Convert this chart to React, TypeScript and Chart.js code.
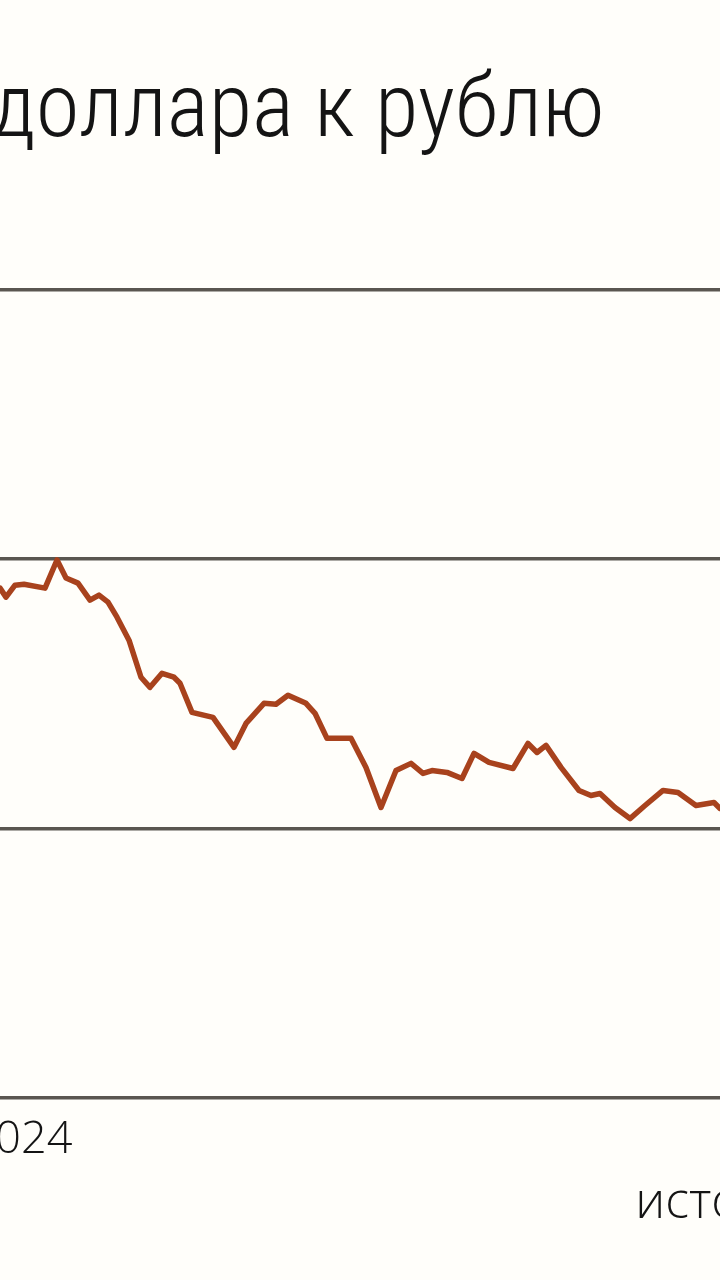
import React, { useEffect, useRef } from "react";
import { Chart, registerables } from "chart.js";

Chart.register(...registerables);

// Days (relative index along the time axis) and USD/RUB rate
const DAYS = [
  -14, -7, 0, 2, 5, 8, 15, 19, 22, 26, 30, 33, 36, 39, 43, 47, 50, 54, 58, 60,
  64, 71, 78, 82, 88, 92, 96, 102, 105, 109, 117, 122, 127, 132, 137, 141, 144,
  149, 154, 158, 163, 171, 176, 179, 182, 187, 193, 197, 200, 205, 210, 215, 221,
  226, 232, 236, 238, 240, 246,
];
const RATE = [
  96.2, 97.0, 97.84, 97.17, 98.06, 98.13, 97.84, 99.93, 98.59, 98.21, 96.95,
  97.32, 96.8, 95.68, 93.97, 91.22, 90.47, 91.51, 91.22, 90.77, 88.61, 88.24,
  86.01, 87.79, 89.28, 89.21, 89.88, 89.28, 88.54, 86.68, 86.68, 84.52, 81.54,
  84.29, 84.82, 84.07, 84.29, 84.15, 83.7, 85.56, 84.89, 84.44, 86.3, 85.63,
  86.16, 84.52, 82.81, 82.43, 82.58, 81.54, 80.72, 81.69, 82.81, 82.66, 81.69,
  81.84, 81.91, 81.47, 81.2,
];
const X_TICK_VALUES = [7];
const X_TICK_LABELS = ["2024"];
const Y_TICK_VALUES = [60, 80, 100, 120];
const TITLE = "Курс доллара к рублю";
const SOURCE = "источник: ЦБ РФ";

const FONT = "'Open Sans', 'Noto Sans', sans-serif";
const TITLE_FONT = "'Roboto Condensed', Roboto, sans-serif";
const OFF = 300;
const PAD_L = 102;
const W = 1324;
const H = 1280;
const X_MIN = -(OFF - PAD_L) / 3;
const X_MAX = (W - OFF) / 3;

export default function App() {
  const ref = useRef<HTMLCanvasElement | null>(null);

  useEffect(() => {
    if (!ref.current) return;
    const chart = new Chart(ref.current, {
      type: "line",
      data: {
        datasets: [
          {
            data: DAYS.map((d, i) => ({ x: d, y: RATE[i] })),
            borderColor: "#a8421d",
            borderWidth: 5.5,
            borderJoinStyle: "round",
            borderCapStyle: "round",
            pointRadius: 0,
            tension: 0,
            fill: false,
          },
        ],
      },
      options: {
        animation: false,
        responsive: false,
        devicePixelRatio: 1,
        layout: { padding: { left: PAD_L, right: 0, top: 0, bottom: 0 } },
        plugins: {
          legend: { display: false },
          tooltip: { enabled: false },
          title: {
            display: true,
            text: TITLE,
            align: "start",
            color: "#141414",
            font: { family: TITLE_FONT, size: 89, weight: "300" as any, lineHeight: 1.2 },
            padding: { top: 60, bottom: 123 },
          },
          subtitle: {
            display: true,
            position: "bottom",
            text: SOURCE,
            align: "end",
            color: "#141414",
            font: { family: FONT, size: 50, weight: "300" as any, lineHeight: 0.85 },
            padding: { top: 8, bottom: 55 },
          },
        },
        scales: {
          x: {
            type: "linear",
            min: X_MIN,
            max: X_MAX,
            grid: { display: false },
            border: { display: false },
            afterBuildTicks: (s: any) => {
              s.ticks = X_TICK_VALUES.map((v) => ({ value: v }));
            },
            ticks: {
              autoSkip: false,
              maxRotation: 0,
              padding: 12,
              color: "#141414",
              font: { family: FONT, size: 45, weight: "300" as any, lineHeight: 1.0 },
              callback: (v: any) => {
                const i = X_TICK_VALUES.indexOf(Number(v));
                return i >= 0 ? X_TICK_LABELS[i] : "";
              },
            },
          },
          y: {
            min: 60,
            max: 120,
            afterBuildTicks: (s: any) => {
              s.ticks = Y_TICK_VALUES.map((v) => ({ value: v }));
            },
            ticks: { display: false },
            grid: { color: "#5a5650", lineWidth: 3.5, drawTicks: false },
            border: { display: false },
          },
        },
      },
    });
    return () => chart.destroy();
  }, []);

  return (
    <div
      style={{
        position: "fixed",
        left: 0,
        top: 0,
        width: 720,
        height: 1280,
        overflow: "hidden",
        background: "#fffefa",
      }}
    >
      <canvas
        ref={ref}
        width={W}
        height={H}
        style={{ position: "absolute", left: -OFF, top: 0, width: W, height: H }}
      />
    </div>
  );
}
